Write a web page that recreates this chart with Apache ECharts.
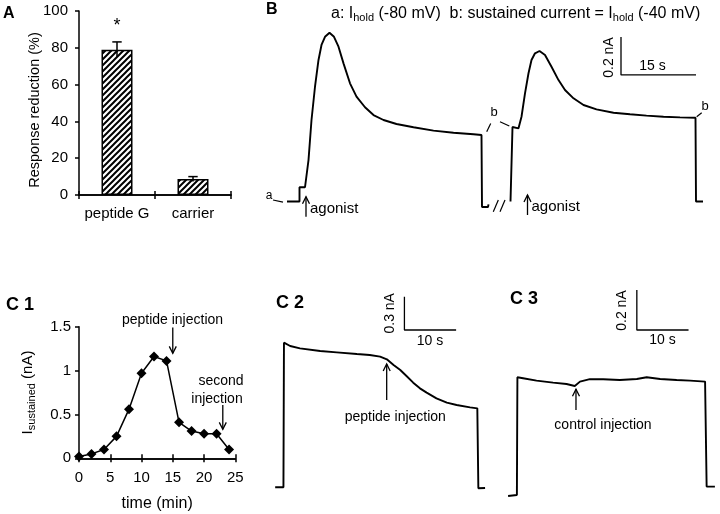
<!DOCTYPE html>
<html><head><meta charset="utf-8">
<script src="https://cdn.jsdelivr.net/npm/echarts@6/dist/echarts.min.js"></script>
<style>html,body{margin:0;padding:0;background:#fff}#c{width:720px;height:514px}</style>
</head><body><div id="c"></div>
<script>
// ---------- Panel A: response reduction ----------
const barCategories = ['peptide G', 'carrier'];
const barValues = [79, 8.7];
const barErrors = [4.2, 1.3];
const barSignif = ['*', ''];
const yTicksA = { min: 0, max: 100, interval: 20 };

// ---------- Panel C1: sustained current vs time ----------
const c1Time = [0, 2, 4, 6, 8, 10, 12, 14, 16, 18, 20, 22, 24];
const c1Current = [0.02, 0.05, 0.1, 0.25, 0.56, 0.97, 1.16, 1.11, 0.41, 0.31, 0.28, 0.28, 0.1];
const xTicksC1 = { min: 0, max: 25, interval: 5 };
const yTicksC1 = { min: 0, max: 1.5, interval: 0.5 };

// ---------- Panel B traces: [time (s), current (nA, relative to I_hold at -80 mV)] ----------
const traceB1 = [[3.4,0.0],[5.9,0.0],[5.9,0.075],[7.0,0.075],[7.7,0.218],[8.3,0.429],[9.0,0.604],[9.7,0.745],
  [10.3,0.824],[11.0,0.867],[11.9,0.888],[12.8,0.867],[13.7,0.815],[14.7,0.727],[16.0,0.622],[17.3,0.552],
  [19.0,0.496],[20.7,0.455],[22.7,0.429],[25.3,0.408],[28.7,0.391],[32.7,0.373],[36.7,0.362],[40.7,0.354],
  [42.3,0.350],[42.4,-0.029],[43.6,-0.029],[43.7,-0.015]];
const traceB2 = [[48.1,0.0],[48.5,0.0],[48.5,0.392],[49.7,0.385],[50.3,0.446],[51.0,0.569],[51.7,0.675],
  [52.3,0.745],[53.0,0.780],[53.9,0.792],[55.0,0.771],[56.3,0.709],[57.7,0.639],[59.0,0.587],[60.7,0.543],
  [62.7,0.508],[65.3,0.485],[68.7,0.467],[72.0,0.459],[75.3,0.452],[78.7,0.446],[82.0,0.443],[85.1,0.441],
  [85.2,0.0],[86.6,0.0]];
const scaleBarB = [[70.2,0.866],[70.2,0.666],[85.2,0.666]];          // 0.2 nA, 15 s
const leadersB = [
  [[0.6,0.008],[2.6,-0.003]],      // a
  [[43.34,0.367],[44.14,0.411]],   // b (left)
  [[46.0,0.42],[47.86,0.397]],     // b (left)
  [[85.34,0.446],[86.34,0.467]],   // b (right)
  [[44.66,-0.054],[45.66,0.008]],  // break mark /
  [[46.0,-0.054],[47.0,0.008]]     // break mark /
];
const arrowsB = [[7.2,-0.08,0.025],[51.5,-0.071,0.034]];   // [t, tail, tip]

// ---------- Panel C2 / C3 traces ----------
const traceC2 = [[1.0,0.006],[2.6,0.006],[2.7,1.308],[3.9,1.278],[5.8,1.257],[9.7,1.233],[12.9,1.221],
  [16.8,1.206],[19.3,1.197],[21.3,1.182],[22.6,1.158],[23.9,1.107],[25.2,1.062],[26.4,1.008],[27.7,0.948],
  [29.0,0.897],[30.3,0.858],[32.2,0.807],[34.2,0.768],[36.1,0.747],[38.7,0.726],[40.1,0.717],[40.3,-0.003],[41.6,0.0]];
const scaleBarC2 = [[26.0,1.722],[26.0,1.422],[36.0,1.422]];        // 0.3 nA, 10 s
const arrowsC2 = [[22.57,0.792,1.116]];
const traceC3 = [[0.6,0.0],[2.3,0.005],[2.4,0.594],[3.5,0.589],[6.1,0.577],[9.3,0.567],[11.9,0.560],
  [13.5,0.550],[14.5,0.572],[16.4,0.584],[19.0,0.584],[22.2,0.580],[25.5,0.585],[27.4,0.594],[30.0,0.585],
  [33.2,0.580],[35.8,0.577],[38.7,0.572],[39.0,0.047],[40.6,0.047]];
const scaleBarC3 = [[25.5,1.03],[25.5,0.83],[35.5,0.83]];           // 0.2 nA, 10 s
const arrowsC3 = [[13.73,0.43,0.534]];
const arrowsC1 = [[15,1.492,1.196],[23,0.607,0.33]];

const FONT = '"Liberation Sans", Arial, Helvetica, sans-serif';
const BLACK = '#000';

// hatch pattern for bars
const pat = document.createElement('canvas');
pat.width = 6; pat.height = 6;
(function(){
  const g = pat.getContext('2d');
  g.fillStyle = '#fff'; g.fillRect(0,0,6,6);
  g.strokeStyle = '#000'; g.lineWidth = 2;
  g.beginPath();
  g.moveTo(-1,7); g.lineTo(7,-1);
  g.moveTo(-4,4); g.lineTo(4,-4);
  g.moveTo(2,10); g.lineTo(10,2);
  g.stroke();
})();

const chart = echarts.init(document.getElementById('c'), null, {renderer:'canvas'});

function hiddenAxis(gridIndex, min, max) {
  return { type:'value', gridIndex, min, max, show:false };
}
const axLine = { show:true, onZero:false, lineStyle:{ color:BLACK, width:1.5 } };
const axLabel = { color:BLACK, fontSize:15, fontFamily:FONT };

function traceSeries(data, xi, yi, w) {
  return { type:'line', data, xAxisIndex:xi, yAxisIndex:yi, showSymbol:false, symbol:'none', clip:false,
    silent:true, lineStyle:{ color:BLACK, width:w || 1.9 }, z:3 };
}
function arrowSeries(data, xi, yi) {
  return { type:'custom', xAxisIndex:xi, yAxisIndex:yi, data, clip:false, silent:true,
    encode:{ x:0, y:[1,2] },
    renderItem(params, api) {
      const tail = api.coord([api.value(0), api.value(1)]);
      const tip = api.coord([api.value(0), api.value(2)]);
      const d = tail[1] > tip[1] ? 1 : -1;
      const st = { stroke:BLACK, lineWidth:1.3, fill:'none' };
      return { type:'group', children:[
        { type:'line', shape:{ x1:tail[0], y1:tail[1], x2:tip[0], y2:tip[1] }, style:st },
        { type:'polyline', shape:{ points:[[tip[0]-3.5, tip[1]+d*7],[tip[0],tip[1]],[tip[0]+3.5, tip[1]+d*7]] }, style:st }
      ]};
    }
  };
}
function txt(text, x, y, size, extra) {
  return Object.assign({ type:'text', x, y, silent:true,
    style:Object.assign({ text, fill:BLACK, font:size + 'px ' + FONT, textAlign:'center', textVerticalAlign:'middle' }, (extra && extra.style) || {}) },
    extra && extra.rotation ? { rotation: extra.rotation } : {});
}
function bold(text, x, y, size) {
  return { type:'text', x, y, silent:true,
    style:{ text, fill:BLACK, font:'bold ' + size + 'px ' + FONT, textAlign:'left', textVerticalAlign:'middle' } };
}

const option = {
  animation:false,
  backgroundColor:'#fff',
  grid:[
    { left:79, top:11, width:152, height:184, outerBoundsMode:'none' },            // A
    { left:270, top:11.5, width:450, height:209, outerBoundsMode:'none' },         // B
    { left:79, top:326.7, width:156.3, height:131.6, outerBoundsMode:'none' },     // C1
    { left:270, top:288, width:232.65, height:211.1, outerBoundsMode:'none' },     // C2
    { left:505, top:286, width:211.97, height:220, outerBoundsMode:'none' }        // C3
  ],
  xAxis:[
    { type:'category', gridIndex:0, data:barCategories, position:'bottom', axisLine:axLine,
      axisTick:{ show:true, length:4, lineStyle:{ color:BLACK, width:1.5 } },
      axisLabel:Object.assign({ margin:11, interval:0 }, axLabel) },
    { type:'category', gridIndex:0, data:barCategories, position:'bottom', axisLine:axLine,
      axisTick:{ show:true, inside:true, length:4, lineStyle:{ color:BLACK, width:1.5 } },
      axisLabel:{ show:false } },
    { type:'value', gridIndex:2, min:xTicksC1.min, max:xTicksC1.max, interval:xTicksC1.interval, position:'bottom',
      axisLine:axLine, splitLine:{ show:false },
      axisTick:{ show:true, length:4, lineStyle:{ color:BLACK, width:1.5 } },
      axisLabel:Object.assign({ margin:12 }, axLabel),
      name:'time (min)', nameLocation:'middle', nameGap:37,
      nameTextStyle:{ color:BLACK, fontSize:16, fontFamily:FONT } },
    { type:'value', gridIndex:2, min:xTicksC1.min, max:xTicksC1.max, interval:xTicksC1.interval, position:'bottom',
      axisLine:axLine, splitLine:{ show:false },
      axisTick:{ show:true, inside:true, length:4, lineStyle:{ color:BLACK, width:1.5 } },
      axisLabel:{ show:false } },
    hiddenAxis(1, 0, 90),
    hiddenAxis(3, 0, 45),
    hiddenAxis(4, 0, 41)
  ],
  yAxis:[
    { type:'value', gridIndex:0, min:yTicksA.min, max:yTicksA.max, interval:yTicksA.interval,
      axisLine:axLine, splitLine:{ show:false },
      axisTick:{ show:true, length:4, lineStyle:{ color:BLACK, width:1.5 } },
      axisLabel:Object.assign({ margin:11 }, axLabel) },
    hiddenAxis(1, -0.1, 1.0),
    { type:'value', gridIndex:2, min:yTicksC1.min, max:yTicksC1.max, interval:yTicksC1.interval,
      axisLine:axLine, splitLine:{ show:false },
      axisTick:{ show:true, length:4, lineStyle:{ color:BLACK, width:1.5 } },
      axisLabel:Object.assign({ margin:8 }, axLabel),
      name:'{i|I}{s|sustained}{i| (nA)}', nameLocation:'middle', nameGap:42,
      nameTextStyle:{ color:BLACK, fontFamily:FONT,
        rich:{ i:{ fontSize:15, lineHeight:18, fontFamily:FONT, color:BLACK },
               s:{ fontSize:11, lineHeight:11, verticalAlign:'bottom', fontFamily:FONT, color:BLACK } } } },
    hiddenAxis(3, -0.1, 1.8),
    hiddenAxis(4, -0.05, 1.05)
  ],
  series:[
    { type:'bar', xAxisIndex:0, yAxisIndex:0, barWidth:31, silent:true, z:2,
      data: barValues.map((v, i) => barSignif[i] ? { value:v, label:{ show:true, position:'top', distance:15,
        formatter:barSignif[i], color:BLACK, fontSize:18, fontFamily:FONT } } : v),
      itemStyle:{ color:{ image:pat, repeat:'repeat' }, borderColor:BLACK, borderWidth:1.5 } },
    { type:'custom', xAxisIndex:0, yAxisIndex:0, silent:true, z:4,
      data: barValues.map((v, i) => [i, v, barErrors[i]]),
      encode:{ x:0, y:1 },
      renderItem(params, api) {
        const x = api.value(0), v = api.value(1), e = api.value(2);
        const top = api.coord([x, v + e]), bot = api.coord([x, v - e]);
        const st = { stroke:BLACK, lineWidth:1.5 };
        return { type:'group', children:[
          { type:'line', shape:{ x1:top[0], y1:top[1], x2:bot[0], y2:bot[1] }, style:st },
          { type:'line', shape:{ x1:top[0]-4.7, y1:top[1], x2:top[0]+4.7, y2:top[1] }, style:st }
        ]};
      } },
    { type:'line', xAxisIndex:2, yAxisIndex:2, silent:true, clip:false,
      data: c1Time.map((t, i) => [t, c1Current[i]]),
      symbol:'diamond', symbolSize:10, showSymbol:true,
      itemStyle:{ color:BLACK }, lineStyle:{ color:BLACK, width:1.5 }, z:3 },
    arrowSeries(arrowsC1, 2, 2),
    traceSeries(traceB1, 4, 1),
    traceSeries(traceB2, 4, 1),
    traceSeries(scaleBarB, 4, 1, 1.3),
    { type:'lines', coordinateSystem:'cartesian2d', xAxisIndex:4, yAxisIndex:1, silent:true,
      data: leadersB.map(c => ({ coords:c })), lineStyle:{ color:BLACK, width:1.2, opacity:1 } },
    arrowSeries(arrowsB, 4, 1),
    traceSeries(traceC2, 5, 3),
    traceSeries(scaleBarC2, 5, 3, 1.3),
    arrowSeries(arrowsC2, 5, 3),
    traceSeries(traceC3, 6, 4),
    traceSeries(scaleBarC3, 6, 4, 1.3),
    arrowSeries(arrowsC3, 6, 4)
  ],
  graphic:[
    bold('A', 3, 14, 16),
    bold('B', 266, 10, 16),
    bold('C 1', 6, 305, 18),
    bold('C 2', 276, 303, 18),
    bold('C 3', 510, 299, 18),
    txt('Response reduction (%)', 35, 110, 14.5, { rotation:Math.PI/2 }),
    { type:'text', x:331, y:14, silent:true, style:{
        text:'{t|a: I}{s|hold}{t| (-80 mV)  b: sustained current = I}{s|hold}{t| (-40 mV)}',
        textAlign:'left', textVerticalAlign:'middle',
        rich:{ t:{ fontSize:16, lineHeight:18, fontFamily:FONT, fill:BLACK },
               s:{ fontSize:11, lineHeight:10, verticalAlign:'bottom', fontFamily:FONT, fill:BLACK } } } },
    txt('a', 269, 196, 12),
    txt('b', 494, 112, 13),
    txt('b', 705, 106, 13),
    txt('agonist', 310, 209, 15, { style:{ textAlign:'left' } }),
    txt('agonist', 531.5, 207, 15, { style:{ textAlign:'left' } }),
    txt('0.2 nA', 609, 57.5, 14, { rotation:Math.PI/2 }),
    txt('15 s', 652.5, 66, 14),
    txt('peptide injection', 172.5, 320, 14),
    txt('second', 221, 381.5, 14),
    txt('injection', 217, 399, 14),
    txt('0.3 nA', 390, 313.3, 14, { rotation:Math.PI/2 }),
    txt('10 s', 430, 341.5, 14),
    txt('peptide injection', 395.3, 417, 14),
    txt('0.2 nA', 622, 310.5, 14, { rotation:Math.PI/2 }),
    txt('10 s', 662.5, 340.5, 14),
    txt('control injection', 603, 425, 14)
  ]
};
chart.setOption(option);
</script></body></html>
